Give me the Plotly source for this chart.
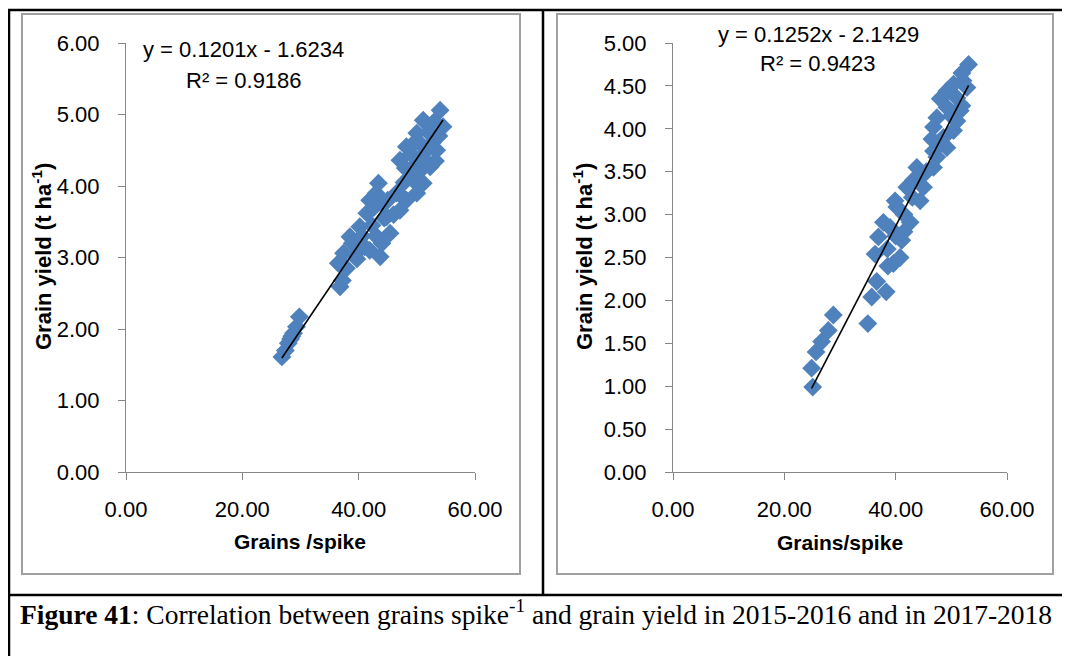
import plotly.graph_objects as go

W, H = 1070, 656
OFF = 8  # page body margin
FW, FH = W - OFF, H - OFF

# ---- data ----
left_x = [26.8, 27.4, 27.9, 28.3, 28.8, 29.3, 29.8, 28.5,
          36.8, 37.2, 36.5, 37.4, 37.9, 38.5, 38.9, 39.4, 39.7, 40.2, 40.6, 41.0,
          41.4, 41.9, 41.9, 42.3, 42.6, 43.0, 43.4, 43.0, 43.7, 44.0, 44.4, 44.8,
          45.4, 45.0, 44.2, 46.0, 46.5, 47.1, 47.5, 48.2, 47.8, 48.8, 47.1, 48.2,
          48.0, 49.4, 49.0, 49.8, 50.0, 50.4, 50.0, 50.5, 51.1, 51.1, 51.5, 51.7,
          52.0, 52.3, 52.6, 53.0, 53.4, 53.8, 54.0, 54.5, 53.2, 52.5, 49.5, 50.8]
left_y = [1.61, 1.70, 1.80, 1.86, 1.94, 2.03, 2.17, 1.90,
          2.59, 2.68, 2.92, 3.06, 2.85, 3.29, 3.20, 3.05, 2.98, 3.43, 3.30, 3.15,
          3.62, 3.80, 3.10, 3.45, 3.70, 3.30, 4.04, 3.90, 3.01, 3.20, 3.55, 3.57,
          3.34, 3.80, 3.75, 3.60, 3.90, 3.66, 3.85, 3.80, 4.05, 4.13, 4.36, 4.55,
          4.25, 4.27, 4.45, 4.05, 3.90, 4.20, 4.74, 4.60, 4.92, 4.04, 4.30, 4.50,
          4.75, 4.27, 4.60, 4.90, 4.50, 4.70, 5.06, 4.83, 4.35, 4.85, 4.60, 4.40]

right_x = [25.1, 24.9, 25.7, 26.7, 27.9, 28.8, 35.0, 35.7, 38.3, 36.6, 39.6, 40.8,
           36.3, 41.1, 36.9, 39.0, 42.6, 37.8, 40.2, 39.9, 44.4, 42.0, 43.2, 43.8,
           45.0, 46.8, 47.4, 49.2, 46.8, 46.5, 46.8, 48.6, 50.4, 47.4, 49.2, 51.0,
           48.0, 49.2, 51.0, 51.9, 50.4, 52.1, 51.9, 53.1, 52.8, 51.6,
           41.5, 43.0, 44.0, 45.5, 48.0, 50.0, 38.5, 40.0, 41.5, 38.6]
right_y = [0.99, 1.21, 1.40, 1.52, 1.65, 1.83, 1.73, 2.04, 2.10, 2.22, 2.43, 2.50,
           2.54, 2.70, 2.74, 2.85, 2.91, 2.91, 3.09, 3.16, 3.16, 3.32, 3.40, 3.55,
           3.32, 3.55, 3.67, 3.78, 3.74, 3.88, 4.02, 3.90, 3.98, 4.13, 4.25, 4.09,
           4.35, 4.44, 4.36, 4.27, 4.52, 4.56, 4.65, 4.75, 4.48, 4.21,
           3.00, 3.20, 3.45, 3.50, 3.85, 4.15, 2.60, 2.75, 2.80, 2.40]

left_fit = (0.1201, -1.6234, 0.9186)
right_fit = (0.1252, -2.1429, 0.9423)

x_ticks = [0, 20, 40, 60]

BLUE = "#4F81BD"
AX = "#868686"
SANS = "Liberation Sans"


def px(x):
    return (x - OFF) / FW


def py(y):
    return 1 - (y - OFF) / FH


fig = go.Figure()

fig.add_trace(go.Scatter(x=left_x, y=left_y, mode="markers", xaxis="x", yaxis="y",
                         marker=dict(symbol="diamond", size=14.5, color=BLUE),
                         showlegend=False, hoverinfo="skip"))
lx = [min(left_x), max(left_x)]
fig.add_trace(go.Scatter(x=lx, y=[left_fit[0] * v + left_fit[1] for v in lx],
                         mode="lines", xaxis="x", yaxis="y",
                         line=dict(color="black", width=1.6), showlegend=False))

fig.add_trace(go.Scatter(x=right_x, y=right_y, mode="markers", xaxis="x2", yaxis="y2",
                         marker=dict(symbol="diamond", size=14.5, color=BLUE),
                         showlegend=False, hoverinfo="skip"))
rx = [min(right_x), max(right_x)]
fig.add_trace(go.Scatter(x=rx, y=[right_fit[0] * v + right_fit[1] for v in rx],
                         mode="lines", xaxis="x2", yaxis="y2",
                         line=dict(color="black", width=1.6), showlegend=False))

axis_common = dict(showline=True, linecolor=AX, linewidth=1.2, ticks="outside",
                   ticklen=7, tickcolor=AX, tickwidth=1.2, showgrid=False,
                   zeroline=False, tickformat=".2f", automargin=False,
                   tickfont=dict(family=SANS, size=22, color="black"))

y_dom = [py(472), py(43)]
fig.update_layout(
    template="none",
    width=FW, height=FH, autosize=False,
    margin=dict(l=0, r=0, t=0, b=0, pad=0, autoexpand=False),
    paper_bgcolor="white", plot_bgcolor="white",
    showlegend=False,
    xaxis=dict(domain=[px(126), px(475)], anchor="y", range=[0, 60],
               tickvals=x_ticks, ticklabelstandoff=10, **axis_common),
    yaxis=dict(domain=y_dom, anchor="x", range=[0, 6], dtick=1,
               ticklabelstandoff=14, **axis_common),
    xaxis2=dict(domain=[px(673), px(1007)], anchor="y2", range=[0, 60],
                tickvals=x_ticks, ticklabelstandoff=10, **axis_common),
    yaxis2=dict(domain=y_dom, anchor="x2", range=[0, 5], dtick=0.5,
                ticklabelstandoff=14, **axis_common),
)

annots = []


def text(x, y, s, size=22, angle=0, family=SANS, xanchor="center"):
    annots.append(dict(x=px(x), y=py(y), xref="paper", yref="paper", text=s,
                       showarrow=False, textangle=angle, xanchor=xanchor,
                       yanchor="middle",
                       font=dict(family=family, size=size, color="black")))


# equations
text(243, 50, "y = %.4fx - %.4f" % (left_fit[0], -left_fit[1]))
text(244, 80, "R² = %.4f" % left_fit[2])
text(818, 35, "y = %.4fx - %.4f" % (right_fit[0], -right_fit[1]))
text(818, 64, "R² = %.4f" % right_fit[2])

# axis titles
text(300, 541, "<b>Grains /spike</b>", size=21)
text(840, 542, "<b>Grains/spike</b>", size=21)
text(42, 257, "<b>Grain yield (t ha<sup>-1</sup>)</b>", size=22, angle=-90)
text(583, 257, "<b>Grain yield (t ha<sup>-1</sup>)</b>", size=22, angle=-90)

# caption
text(18, 612, "<b>Figure 41</b>: Correlation between grains spike<sup>-1</sup> and grain yield "
     "in 2015-2016 and in 2017-2018", size=27.5, family="Liberation Serif", xanchor="left")

fig.update_layout(annotations=annots)

shapes = []


def line(x0, y0, x1, y1, color="black", width=2.5):
    shapes.append(dict(type="line", xref="paper", yref="paper",
                       x0=px(x0), y0=py(y0), x1=px(x1), y1=py(y1),
                       line=dict(color=color, width=width)))


# table borders
line(7, 10, 1070, 10)
line(9, 10, 9, 656)
line(543, 10, 543, 595)
line(7, 595, 1070, 595)

# chart frames
for x0, x1 in [(22, 520), (557, 1053)]:
    shapes.append(dict(type="rect", xref="paper", yref="paper",
                       x0=px(x0), y0=py(574), x1=px(x1), y1=py(14),
                       line=dict(color="#a0a0a0", width=2)))

fig.update_layout(shapes=shapes)

fig.write_html("out.html")
